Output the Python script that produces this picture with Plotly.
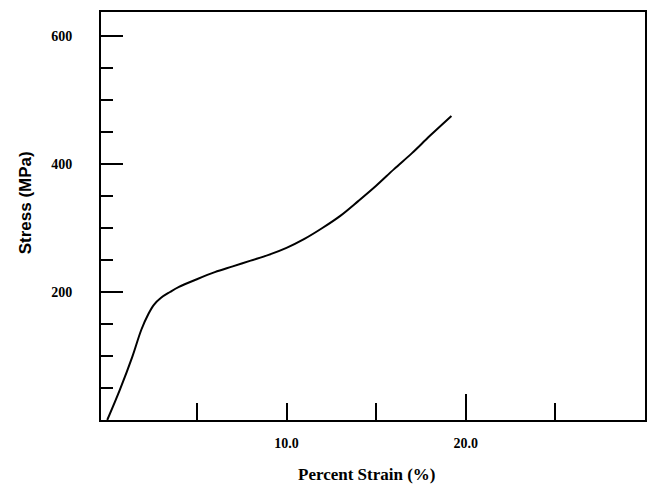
import plotly.graph_objects as go

# Data (strain %, stress MPa)
strain = [0, 0.7, 1.4, 1.9, 2.3, 2.6, 3.0, 3.5, 4.0, 5.0, 6.0, 7.0, 8.0, 9.0,
          10.0, 11.0, 12.0, 13.0, 14.0, 15.0, 16.0, 17.0, 18.0, 19.2]
stress = [0, 47, 99, 141, 166, 180, 191, 200, 208, 220, 231, 240, 249, 258,
          269, 283, 300, 319, 342, 366, 392, 417, 444, 475]

y_tickvals = [200, 400, 600]
y_ticktext = ["200", "400", "600"]
x_tickvals = [10, 20]
x_ticktext = ["10.0", "20.0"]

serif = "Liberation Serif"
sans = "Liberation Sans"

fig = go.Figure()
fig.add_trace(go.Scatter(x=strain, y=stress, mode="lines",
                         line=dict(color="black", width=2, shape="spline", smoothing=1.0),
                         showlegend=False, hoverinfo="skip"))

fig.update_layout(
    width=652, height=486,
    margin=dict(l=101, r=5, t=12, b=66),
    paper_bgcolor="white", plot_bgcolor="white",
    xaxis=dict(range=[-0.35, 30.0], showgrid=False, zeroline=False,
               showline=True, linecolor="black", linewidth=2, mirror=True,
               tickvals=x_tickvals, ticktext=x_ticktext,
               ticks="inside", ticklen=17, tickwidth=2, tickcolor="black",
               ticklabelstandoff=9,
               tickfont=dict(family=serif, size=14, color="black", weight="bold"),
               minor=dict(dtick=10, tick0=5, ticks="inside", ticklen=17, tickwidth=2,
                          tickcolor="black", showgrid=False)),
    xaxis2=dict(overlaying="x", matches="x", range=[-0.35, 30.0], side="bottom",
                showgrid=False, zeroline=False, showline=False,
                tickvals=[20], ticks="inside", ticklen=26, tickwidth=2,
                tickcolor="black", showticklabels=False),
    yaxis=dict(range=[0, 637.5], showgrid=False, zeroline=False,
               showline=True, linecolor="black", linewidth=2, mirror=True,
               tickvals=y_tickvals, ticktext=y_ticktext,
               ticks="inside", ticklen=22, tickwidth=2, tickcolor="black",
               ticklabelstandoff=24,
               tickfont=dict(family=serif, size=14, color="black", weight="bold"),
               minor=dict(dtick=50, tick0=0, ticks="inside", ticklen=12, tickwidth=2,
                          tickcolor="black", showgrid=False)),
    annotations=[
        dict(text="Stress (MPa)", xref="paper", yref="paper",
             x=-76 / 546, y=(420 - 203) / 408, textangle=-90,
             xanchor="center", yanchor="middle", showarrow=False,
             font=dict(family=sans, size=17, color="black", weight="bold")),
        dict(text="Percent Strain (%)", xref="paper", yref="paper",
             x=(368 - 101) / 546, y=-(474 - 420) / 408,
             xanchor="center", yanchor="middle", showarrow=False,
             font=dict(family=serif, size=17, color="black", weight="bold")),
    ],
)
# invisible trace so the secondary x axis (long tick at 20) is rendered
fig.add_trace(go.Scatter(x=[None], y=[None], xaxis="x2", showlegend=False, hoverinfo="skip"))

fig.write_html("out.html")
